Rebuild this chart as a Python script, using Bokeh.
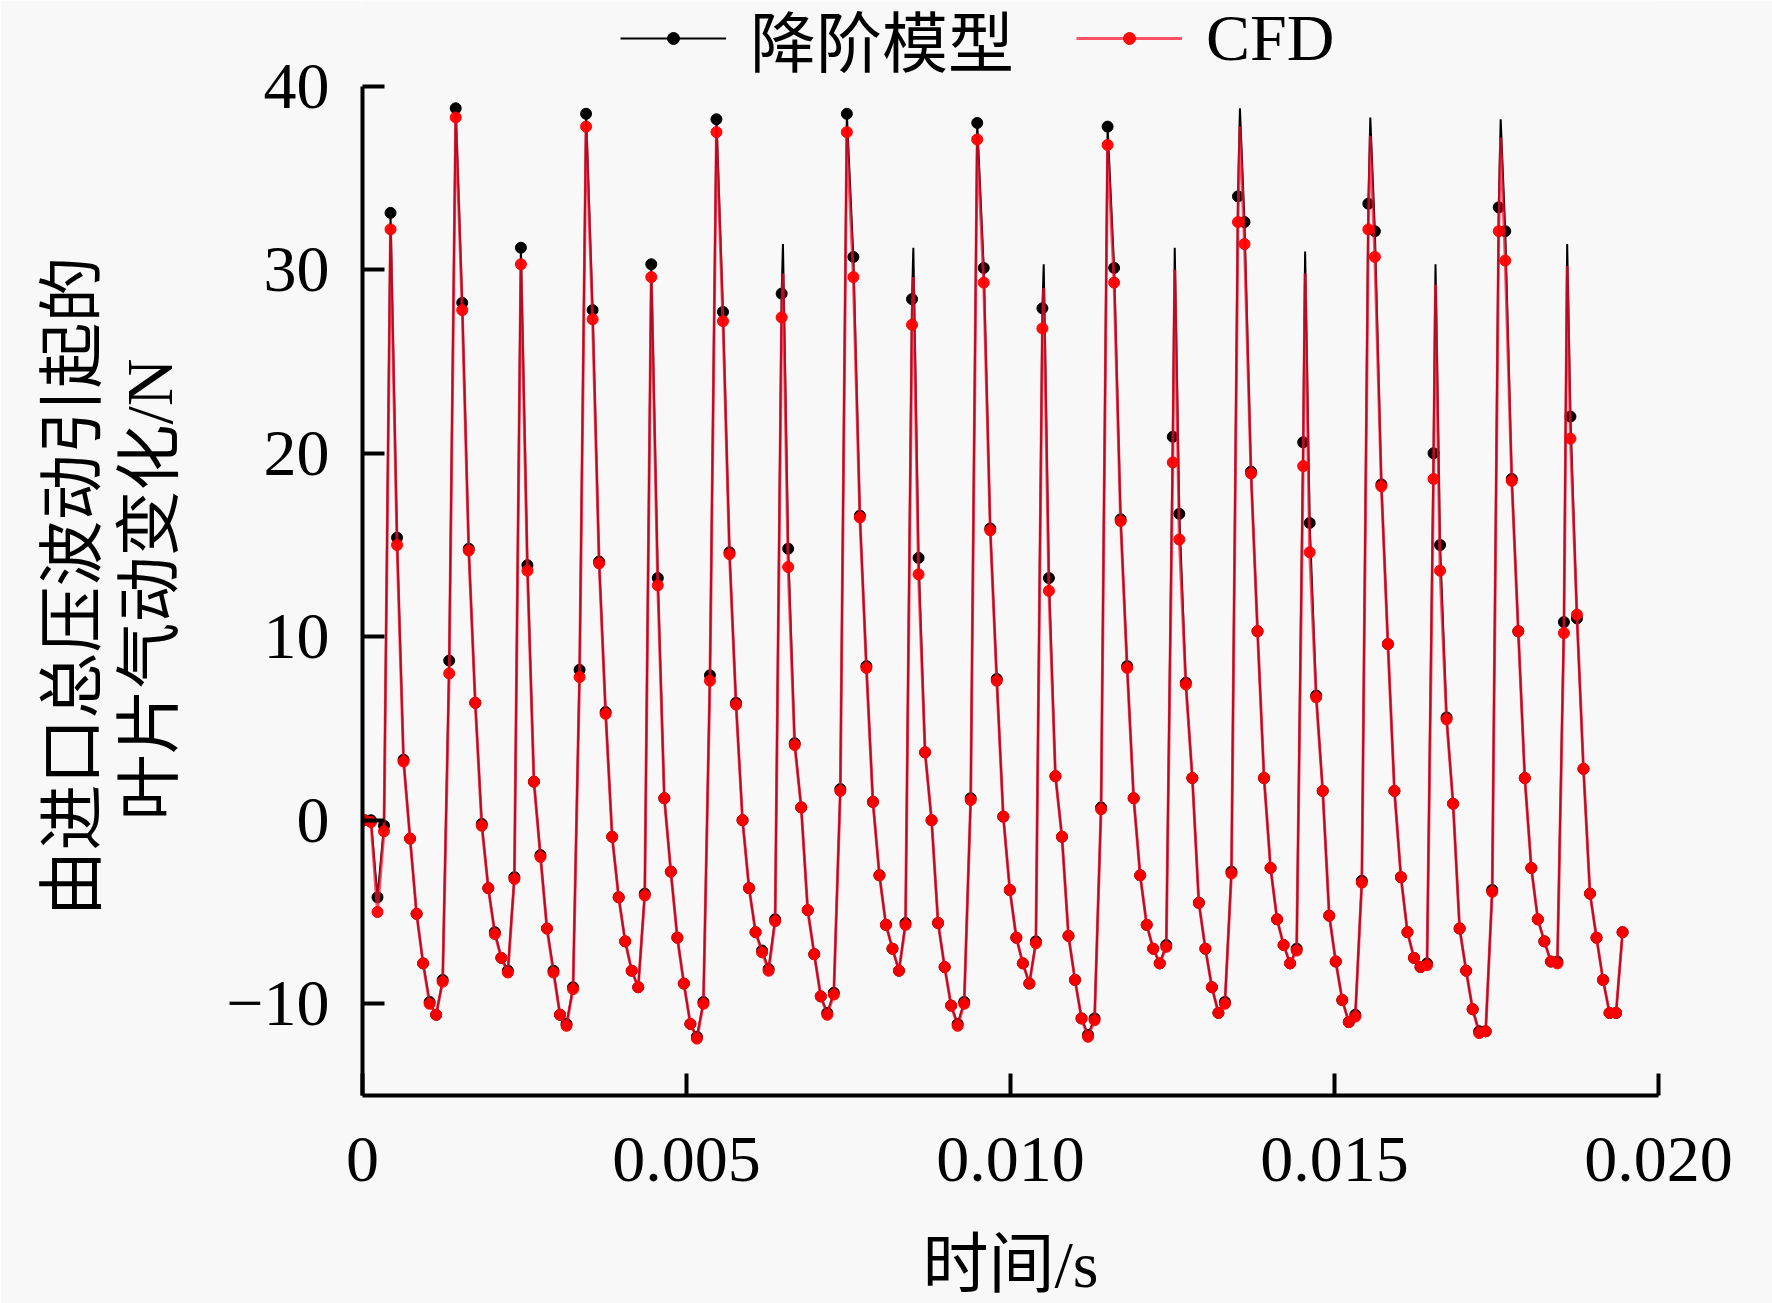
import numpy as np
from bokeh.plotting import figure
from bokeh.models import (Range1d, FixedTicker, PrintfTickFormatter, Legend,
                          LegendItem, Title)
from bokeh.embed import file_html
from bokeh.resources import INLINE

# ---------------- data ----------------
series_names = ["降阶模型", "CFD"]
x_title = "时间/s"
y_title_lines = ["由进口总压波动引起的", "叶片气动变化/N"]

t_start = 3.0e-5          # time of first sample, s
dt = 1.006e-4             # sample step, s

rom_force = [
    0.0, 0.0, -4.2, -0.3, 33.1, 15.4, 3.3, -1.0, -5.1, -7.8,
    -9.9, -10.6, -8.7, 8.7, 38.8, 28.2, 14.8, 6.4, -0.2, -3.7,
    -6.1, -7.5, -8.2, -3.1, 31.2, 13.9, 2.1, -1.9, -5.9, -8.2,
    -10.6, -11.1, -9.1, 8.2, 38.5, 27.8, 14.1, 5.9, -0.9, -4.2,
    -6.6, -8.2, -9.1, -4.0, 30.3, 13.2, 1.2, -2.8, -6.4, -8.9,
    -11.1, -11.8, -9.9, 7.9, 38.2, 27.7, 14.6, 6.4, 0.0, -3.7,
    -6.1, -7.1, -8.1, -5.4, 28.7, 14.8, 4.2, 0.7, -4.9, -7.3,
    -9.6, -10.5, -9.4, 1.7, 38.5, 30.7, 16.6, 8.4, 1.0, -3.0,
    -5.7, -7.0, -8.2, -5.6, 28.4, 14.3, 3.7, 0.0, -5.6, -8.0,
    -10.1, -11.1, -9.9, 1.2, 38.0, 30.1, 15.9, 7.7, 0.2, -3.8,
    -6.4, -7.8, -8.9, -6.6, 27.9, 13.2, 2.4, -0.9, -6.3, -8.7,
    -10.8, -11.7, -10.8, 0.7, 37.8, 30.1, 16.4, 8.4, 1.2, -3.0,
    -5.7, -7.0, -7.8, -6.8, 20.9, 16.7, 7.5, 2.3, -4.5, -7.0,
    -9.1, -10.5, -9.9, -2.8, 34.0, 32.6, 19.0, 10.3, 2.3, -2.6,
    -5.4, -6.8, -7.8, -7.0, 20.6, 16.2, 6.8, 1.6, -5.2, -7.7,
    -9.8, -11.0, -10.6, -3.3, 33.6, 32.1, 18.3, 9.6, 1.6, -3.1,
    -6.1, -7.5, -8.0, -7.8, 20.0, 15.0, 5.6, 0.9, -5.9, -8.2,
    -10.3, -11.5, -11.5, -3.8, 33.4, 32.1, 18.6, 10.3, 2.3, -2.6,
    -5.4, -6.6, -7.7, -7.7, 10.8, 22.0, 11.0, 2.8, -4.0, -6.4,
    -8.7, -10.5, -10.5, -6.1,
]

cfd_force = [
    0.0, -0.1, -5.0, -0.6, 32.2, 15.0, 3.2, -1.0, -5.1, -7.8,
    -10.0, -10.6, -8.8, 8.0, 38.3, 27.8, 14.7, 6.4, -0.3, -3.7,
    -6.2, -7.5, -8.3, -3.2, 30.3, 13.6, 2.1, -2.0, -5.9, -8.3,
    -10.6, -11.2, -9.2, 7.8, 37.8, 27.3, 14.0, 5.8, -0.9, -4.2,
    -6.6, -8.2, -9.1, -4.1, 29.6, 12.8, 1.2, -2.8, -6.4, -8.9,
    -11.1, -11.9, -10.0, 7.6, 37.5, 27.2, 14.5, 6.3, 0.0, -3.7,
    -6.1, -7.2, -8.2, -5.5, 27.4, 13.8, 4.1, 0.7, -4.9, -7.3,
    -9.6, -10.6, -9.5, 1.6, 37.5, 29.6, 16.5, 8.3, 1.0, -3.0,
    -5.7, -7.0, -8.2, -5.7, 27.0, 13.4, 3.7, 0.0, -5.6, -8.0,
    -10.1, -11.2, -10.0, 1.1, 37.1, 29.3, 15.8, 7.6, 0.2, -3.8,
    -6.4, -7.8, -8.9, -6.7, 26.8, 12.5, 2.4, -0.9, -6.3, -8.7,
    -10.8, -11.8, -10.9, 0.6, 36.8, 29.3, 16.3, 8.3, 1.2, -3.0,
    -5.7, -7.0, -7.8, -6.9, 19.5, 15.3, 7.4, 2.3, -4.5, -7.0,
    -9.1, -10.5, -10.0, -2.9, 32.6, 31.4, 18.9, 10.3, 2.3, -2.6,
    -5.4, -6.8, -7.8, -7.1, 19.3, 14.6, 6.7, 1.6, -5.2, -7.7,
    -9.8, -11.0, -10.7, -3.4, 32.2, 30.7, 18.2, 9.6, 1.6, -3.1,
    -6.1, -7.5, -8.0, -7.9, 18.6, 13.6, 5.5, 0.9, -5.9, -8.2,
    -10.3, -11.6, -11.5, -3.9, 32.1, 30.5, 18.5, 10.3, 2.3, -2.6,
    -5.4, -6.6, -7.7, -7.8, 10.2, 20.8, 11.2, 2.8, -4.0, -6.4,
    -8.7, -10.5, -10.5, -6.1,
]

# sharp peaks of the continuous curves that fall between marker samples
peak_time = [0.0064885, 0.0085005, 0.0105125, 0.0125346, 0.0135406,
             0.0145466, 0.0155526, 0.0165586, 0.0175646, 0.0185907]
peak_rom = [31.4, 31.2, 30.3, 31.2, 38.8, 31.0, 38.3, 30.3, 38.2, 31.4]
peak_cfd = [29.8, 29.6, 29.0, 30.0, 37.8, 29.8, 37.3, 29.2, 37.2, 30.2]

x_ticks = [0.0, 0.005, 0.010, 0.015, 0.020]
y_ticks = [-10, 0, 10, 20, 30, 40]
y_tick_labels = ["−10", "0", "10", "20", "30", "40"]
y_axis_span = (-15, 40)

# ---------------- build ----------------
t = t_start + dt * np.arange(len(rom_force))

def merged(vals, peaks):
    tt = np.concatenate([t, np.array(peak_time)])
    vv = np.concatenate([np.array(vals), np.array(peaks)])
    order = np.argsort(tt)
    return tt[order], vv[order]

rom_lt, rom_lv = merged(rom_force, peak_rom)
cfd_lt, cfd_lv = merged(cfd_force, peak_cfd)

SERIF = "Liberation Serif"
CJK = "Liberation Serif, Noto Sans CJK SC"
BG = "#f8f8f8"

W, H = 1772, 1303
TOP, BOTTOM = 0, 208
frame_h = H - TOP - BOTTOM
px_per_unit = 18.35                     # vertical scale of the reference
y_end = y_axis_span[0] + frame_h / px_per_unit

p = figure(width=W, height=H, output_backend="svg", toolbar_location=None,
           x_range=Range1d(0, 0.020), y_range=Range1d(y_axis_span[0], y_end),
           min_border_left=362, min_border_right=114,
           min_border_top=TOP, min_border_bottom=BOTTOM)
p.title.visible = False
p.background_fill_color = BG
p.border_fill_color = BG
p.outline_line_color = None
p.xgrid.visible = False
p.ygrid.visible = False

rom_line = p.line(rom_lt, rom_lv, line_color="black", line_width=2.0)
rom_pts = p.scatter(t, rom_force, marker="circle", size=11,
                    fill_color="black", line_color="black")
cfd_line = p.line(cfd_lt, cfd_lv, line_color="#ff1030", line_width=3.0,
                  line_alpha=0.72)
cfd_pts = p.scatter(t, cfd_force, marker="circle", size=11,
                    fill_color="#ff0000", line_color="#ff0000",
                    fill_alpha=0.95)

for ax in (p.xaxis[0], p.yaxis[0]):
    ax.axis_line_width = 4
    ax.major_tick_line_width = 4
    ax.major_tick_in = 22
    ax.major_tick_out = 0
    ax.minor_tick_line_color = None
    ax.major_label_text_font = SERIF
    ax.major_label_text_font_size = "66px"
    ax.major_label_text_color = "black"
    ax.axis_label_text_font = CJK
    ax.axis_label_text_font_size = "66px"
    ax.axis_label_text_font_style = "normal"
    ax.axis_label_text_color = "black"

p.xaxis.ticker = FixedTicker(ticks=x_ticks)
p.xaxis.formatter = PrintfTickFormatter(format="%.3f")
p.xaxis.major_label_overrides = {0: "0"}
p.xaxis.major_label_standoff = 42
p.xaxis.axis_label = x_title
p.xaxis.axis_label_standoff = 44

p.yaxis.ticker = FixedTicker(ticks=y_ticks)
p.yaxis.bounds = y_axis_span
p.yaxis.major_label_overrides = {v: s for v, s in zip(y_ticks, y_tick_labels)}
p.yaxis.major_label_standoff = 33

# y-axis title: two rotated lines, centred on the -15..40 span of the axis
spacer = Title(text=" ", text_font_size="1px", standoff=34)
p.add_layout(spacer, "left")
for line, start_off, so in ((y_title_lines[1], 275, 0),
                            (y_title_lines[0], 179, 3)):
    p.add_layout(Title(text=line, align="left", offset=start_off,
                       vertical_align="middle", standoff=so,
                       text_font=CJK, text_font_size="66px",
                       text_font_style="normal", text_color="black"), "left")

legend = Legend(
    items=[LegendItem(label=series_names[0], renderers=[rom_line, rom_pts]),
           LegendItem(label=series_names[1], renderers=[cfd_line, cfd_pts])],
    orientation="horizontal", location=(258, frame_h - 86),
    glyph_width=106, glyph_height=30, label_standoff=24, spacing=62,
    padding=0, margin=0, border_line_color=None, background_fill_alpha=0,
    label_text_font=CJK, label_text_font_size="66px",
    label_text_color="black")
p.add_layout(legend)

open("out.html", "w").write(file_html(p, INLINE))
